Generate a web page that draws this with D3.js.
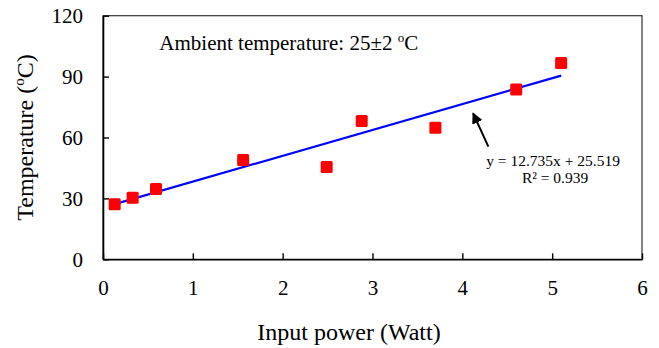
<!DOCTYPE html>
<html>
<head>
<meta charset="utf-8">
<script src="https://cdn.jsdelivr.net/npm/d3@7"></script>
<style>
  html, body { margin: 0; padding: 0; background: #fff; }
  svg { display: block; }
  text { font-family: "Liberation Serif", "Times New Roman", serif; fill: #000; }
</style>
</head>
<body>
<svg id="chart" width="659" height="348"></svg>
<script>
// Measured surface temperature versus electrical input power
const power = [0.13, 0.33, 0.59, 1.56, 2.49, 2.88, 3.70, 4.60, 5.10];
const temperature = [27.1, 30.3, 34.6, 48.9, 45.5, 68.1, 64.8, 83.7, 96.7];

// Linear fit reported on the chart
const slope = 12.735;
const intercept = 25.519;
const rSquared = 0.939;

const xTicks = [0, 1, 2, 3, 4, 5, 6];
const yTicks = [0, 30, 60, 90, 120];

const svg = d3.select("#chart");
const W = 659, H = 348;
const margin = { left: 103, right: 17, top: 15.7, bottom: 88.7 };

const x = d3.scaleLinear().domain([0, 6]).range([margin.left, W - margin.right]);
const y = d3.scaleLinear().domain([0, 120]).range([H - margin.bottom, margin.top]);

svg.append("rect").attr("width", W).attr("height", H).attr("fill", "#fff");

// plot frame
svg.append("rect")
  .attr("x", x(0)).attr("y", y(120))
  .attr("width", x(6) - x(0)).attr("height", y(0) - y(120))
  .attr("fill", "none").attr("stroke", "#333").attr("stroke-width", 1.2);

// axes with inward ticks
const xAxis = svg.append("g")
  .attr("transform", `translate(0,${y(0)})`)
  .call(d3.axisBottom(x).tickValues(xTicks).tickFormat(d3.format("d"))
    .tickSizeInner(-6).tickSizeOuter(0).tickPadding(21));
const yAxis = svg.append("g")
  .attr("transform", `translate(${x(0)},0)`)
  .call(d3.axisLeft(y).tickValues(yTicks).tickFormat(d3.format("d"))
    .tickSizeInner(-6).tickSizeOuter(0).tickPadding(20));

[xAxis, yAxis].forEach(g => {
  g.select(".domain").attr("stroke", "#000").attr("stroke-width", 1.6);
  g.selectAll(".tick line").attr("stroke", "#000").attr("stroke-width", 1.4);
  g.selectAll(".tick text")
    .attr("font-family", "Liberation Serif, Times New Roman, serif")
    .attr("font-size", 21).attr("fill", "#000");
});

// fitted line across the measured range
const xMin = d3.min(power), xMax = d3.max(power);
svg.append("line")
  .attr("x1", x(xMin)).attr("y1", y(slope * xMin + intercept))
  .attr("x2", x(xMax)).attr("y2", y(slope * xMax + intercept))
  .attr("stroke", "#0000ff").attr("stroke-width", 2.2);

// measurement markers
const size = 12;
svg.append("g").selectAll("rect")
  .data(power.map((p, i) => ({ p, t: temperature[i] })))
  .join("rect")
  .attr("x", d => x(d.p) - size / 2)
  .attr("y", d => y(d.t) - size / 2)
  .attr("width", size).attr("height", size)
  .attr("rx", 1.5)
  .attr("fill", "#ff0000");

// ambient condition note
const note = svg.append("text")
  .attr("x", x(0.627)).attr("y", y(103))
  .attr("font-size", 21);
note.append("tspan").text("Ambient temperature: 25±2 ");
note.append("tspan").attr("font-size", 13).attr("dy", -8).text("o");
note.append("tspan").attr("dy", 8).text("C");

// arrow pointing at the fit line
svg.append("defs").append("marker")
  .attr("id", "head")
  .attr("viewBox", "0 0 10 10")
  .attr("refX", 9).attr("refY", 5)
  .attr("markerWidth", 5.5).attr("markerHeight", 5.5)
  .attr("orient", "auto")
  .append("path").attr("d", "M0,0 L10,5 L0,10 Z").attr("fill", "#000");

svg.append("line")
  .attr("x1", x(4.29)).attr("y1", y(55.5))
  .attr("x2", x(4.12)).attr("y2", y(71.9))
  .attr("stroke", "#000").attr("stroke-width", 2)
  .attr("marker-end", "url(#head)");

// fit equation
const eqX = x(5.01);
svg.append("text")
  .attr("x", eqX).attr("y", y(46)).attr("text-anchor", "middle")
  .attr("font-size", 15.5)
  .text(`y = ${slope}x + ${intercept}`);
svg.append("text")
  .attr("x", eqX + 2).attr("y", y(37.8)).attr("text-anchor", "middle")
  .attr("font-size", 15.5)
  .text(`R² = ${rSquared}`);

// axis titles
svg.append("text")
  .attr("x", 349).attr("y", 340).attr("text-anchor", "middle")
  .attr("font-size", 24)
  .text("Input power (Watt)");

const yTitle = svg.append("text")
  .attr("transform", `translate(33,${(y(0) + y(120)) / 2}) rotate(-90)`)
  .attr("text-anchor", "middle")
  .attr("font-size", 24);
yTitle.append("tspan").text("Temperature (");
yTitle.append("tspan").attr("font-size", 15).attr("dy", -9).text("o");
yTitle.append("tspan").attr("dy", 9).text("C)");
</script>
</body>
</html>
